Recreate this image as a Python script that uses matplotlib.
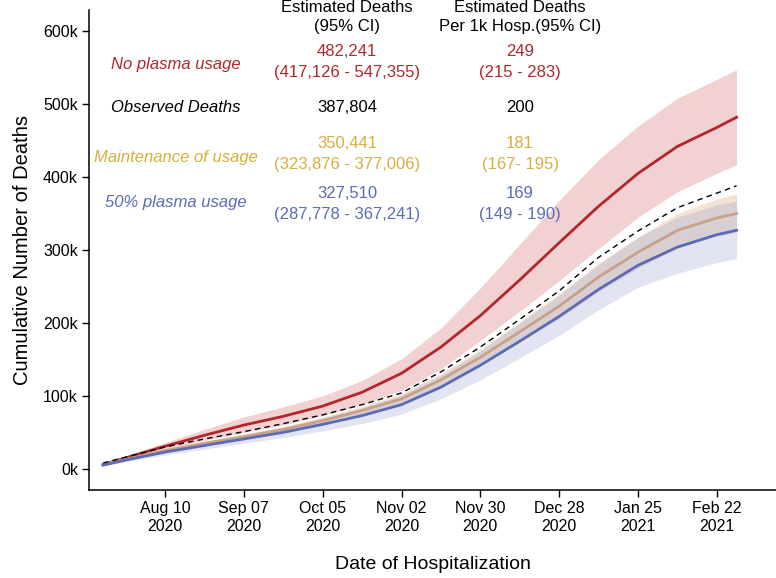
import matplotlib
matplotlib.use('Agg')
import matplotlib.pyplot as plt
import numpy as np
import pandas as pd

plt.rcParams['font.family'] = ['Liberation Sans', 'DejaVu Sans']

dates = pd.to_datetime(['2020-07-19', '2020-07-27', '2020-08-10', '2020-08-24', '2020-09-07',
                        '2020-09-21', '2020-10-05', '2020-10-19', '2020-11-02', '2020-11-16',
                        '2020-11-30', '2020-12-14', '2020-12-28', '2021-01-11', '2021-01-25',
                        '2021-02-08', '2021-02-22', '2021-03-01'])

# cumulative deaths, thousands
no_plasma = [6, 15, 31, 46, 60, 72, 86, 105, 131, 167, 210, 259, 310, 360, 405, 442, 468, 482]
no_plasma_lo = [5, 13, 27, 39, 50, 60, 73, 88, 108, 137, 176, 216, 258, 302, 345, 380, 405, 417]
no_plasma_hi = [8, 18, 36, 54, 71, 85, 100, 121, 151, 193, 248, 308, 368, 424, 470, 508, 534, 547]

observed = [8, 16, 30, 41, 51, 62, 74, 88, 104, 133, 167, 205, 244, 290, 326, 358, 378, 388]

maintenance = [6, 13, 25, 35, 44, 54, 66, 80, 96, 122, 153, 188, 223, 263, 297, 327, 344, 350]
maintenance_lo = [5, 12, 23, 32, 41, 50, 61, 74, 89, 113, 142, 174, 206, 243, 275, 303, 319, 324]
maintenance_hi = [7, 14, 27, 38, 48, 58, 71, 86, 103, 131, 164, 202, 240, 282, 318, 350, 370, 377]

half_plasma = [5, 12, 23, 32, 41, 50, 61, 73, 88, 112, 142, 175, 209, 246, 279, 304, 321, 327]
half_plasma_lo = [4, 10, 19, 27, 35, 43, 52, 62, 75, 96, 122, 152, 183, 218, 249, 268, 283, 288]
half_plasma_hi = [6, 14, 27, 37, 47, 57, 70, 84, 101, 128, 162, 200, 238, 280, 317, 345, 362, 367]

tick_dates = pd.date_range('2020-08-10', '2021-02-22', freq='28D')
y_ticks = [0, 100, 200, 300, 400, 500, 600]

labels = ['No plasma usage', 'Observed Deaths', 'Maintenance of usage', '50% plasma usage']
est_deaths = [('482,241', '(417,126 - 547,355)'), ('387,804', ''),
              ('350,441', '(323,876 - 377,006)'), ('327,510', '(287,778 - 367,241)')]
per_1k = [('249', '(215 - 283)'), ('200', ''), ('181', '(167- 195)'), ('169', '(149 - 190)')]
colors = ['#B3262A', 'black', '#D8AE3C', '#5B6BB5']

W, H = 776, 578
fig = plt.figure(figsize=(W / 100, H / 100), dpi=100)
ax = fig.add_axes([89 / W, 1 - 490 / H, 1 - 89 / W, 480 / H])

ax.fill_between(dates, no_plasma_lo, no_plasma_hi, color='#C94A4A', alpha=0.25, lw=0)
ax.fill_between(dates, maintenance_lo, maintenance_hi, color='#E3C3A3', alpha=0.45, lw=0)
ax.fill_between(dates, half_plasma_lo, half_plasma_hi, color='#8E97CF', alpha=0.25, lw=0)
ax.plot(dates, no_plasma, color='#B3262A', lw=2.0)
ax.plot(dates, maintenance, color='#C9A088', lw=2.0)
ax.plot(dates, half_plasma, color='#5B6BB5', lw=2.0)
ax.plot(dates, observed, color='black', lw=1.0, ls=(0, (4, 3)))

ax.set_xlim(pd.Timestamp('2020-07-14'), pd.Timestamp('2021-03-15'))
ax.set_ylim(-29, 629)
ax.set_xticks(tick_dates)
ax.set_xticklabels([d.strftime('%b %d\n%Y') for d in tick_dates])
ax.set_yticks(y_ticks)
ax.set_yticklabels([f'{v}k' for v in y_ticks])
ax.tick_params(labelsize=11.5, length=5, width=1, colors='black', pad=3)
for s in ['top', 'right']:
    ax.spines[s].set_visible(False)
for s in ['left', 'bottom']:
    ax.spines[s].set_linewidth(1.1)
ax.set_xlabel('Date of Hospitalization', fontsize=14, labelpad=16)
ax.set_ylabel('Cumulative Number of Deaths', fontsize=14.5, labelpad=8)

def ftext(x, y, s, **kw):
    fig.text(x / W, 1 - y / H, s, ha='center', va='center', fontsize=12, **kw)

ftext(347, 7, 'Estimated Deaths')
ftext(347, 27, '(95% CI)')
ftext(520, 7, 'Estimated Deaths')
ftext(520, 27, 'Per 1k Hosp.(95% CI)')

label_y = [64, 108, 157, 203]
num_y = [(52, 73), (108, None), (143, 164), (194, 215)]
for lab, ly, (n1, n2), (p1, p2), (y1, y2), c in zip(labels, label_y, est_deaths, per_1k, num_y, colors):
    ftext(176, ly, lab, color=c, style='italic')
    ftext(347, y1, n1, color=c)
    ftext(520, y1, p1, color=c)
    if y2 is not None:
        ftext(347, y2, n2, color=c)
        ftext(520, y2, p2, color=c)

fig.savefig('out.png', dpi=100)
